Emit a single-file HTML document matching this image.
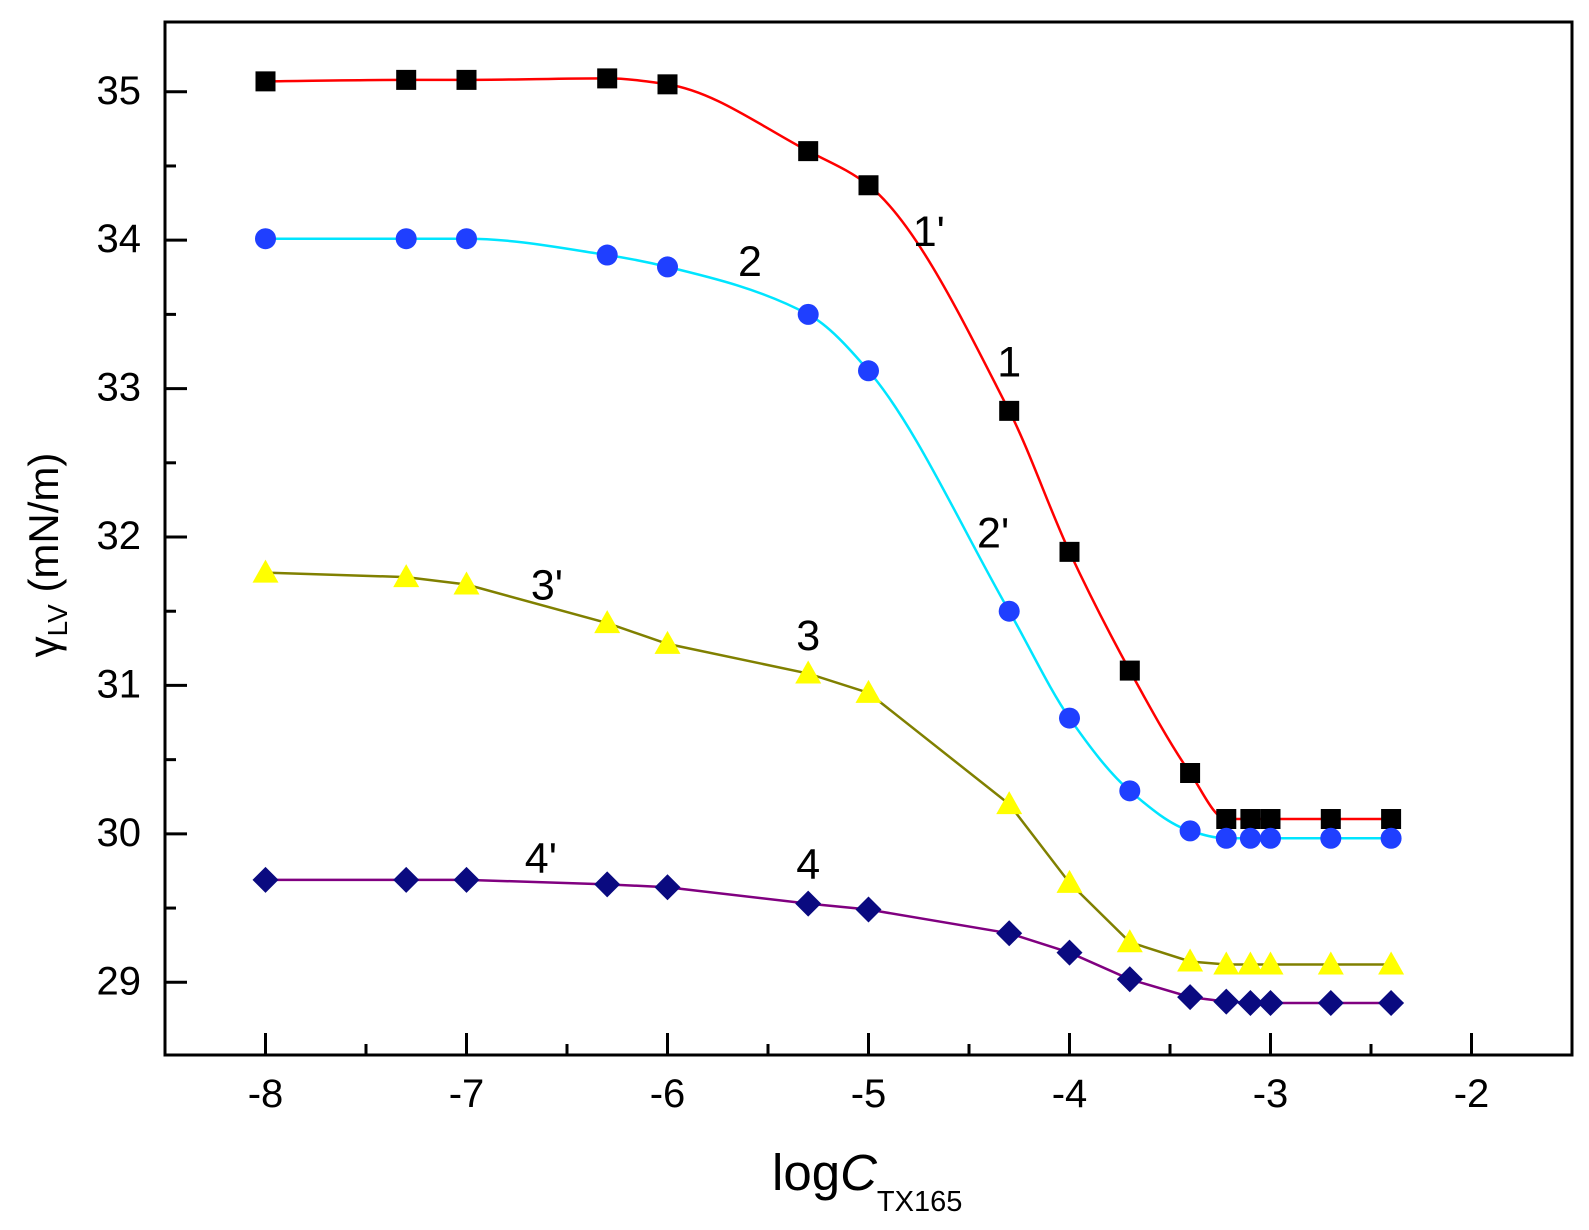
<!DOCTYPE html>
<html><head><meta charset="utf-8"><style>
html,body{margin:0;padding:0;background:#fff;}
svg{display:block;font-family:"Liberation Sans",Arial,sans-serif;}
</style></head><body>
<svg id="chart" width="1589" height="1230" viewBox="0 0 1589 1230" xmlns="http://www.w3.org/2000/svg">
<g id="plot"></g>
<text transform="translate(58,555) rotate(-90)" text-anchor="middle" font-size="42">γ<tspan font-size="28" dy="9">LV</tspan><tspan dy="-9"> (mN/m)</tspan></text>
<text x="772" y="1190" font-size="51">log<tspan font-style="italic">C</tspan><tspan font-size="29" dy="21">TX165</tspan></text>
</svg>
<script>
const xValues = [-8, -7.3, -7, -6.3, -6, -5.3, -5, -4.3, -4, -3.7, -3.4, -3.22, -3.1, -3, -2.7, -2.4];
const series1 = [35.07,35.08,35.08,35.09,35.05,34.6,34.37,32.85,31.9,31.1,30.41,30.1,30.1,30.1,30.1,30.1];
const series2 = [34.01,34.01,34.01,33.9,33.82,33.5,33.12,31.5,30.78,30.29,30.02,29.97,29.97,29.97,29.97,29.97];
const series3 = [31.76,31.73,31.68,31.42,31.28,31.08,30.95,30.2,29.67,29.27,29.14,29.12,29.12,29.12,29.12,29.12];
const series4 = [29.69,29.69,29.69,29.66,29.64,29.53,29.49,29.33,29.2,29.02,28.9,28.87,28.86,28.86,28.86,28.86];
const xTicks = [-8,-7,-6,-5,-4,-3,-2];
const yTicks = [29,30,31,32,33,34,35];
const curveLabels = ["1'","1","2","2'","3'","3","4'","4"];
const labelX = [-4.7,-4.3,-5.59,-4.38,-6.6,-5.3,-6.63,-5.3];
const labelY = [33.96,33.08,33.76,31.93,31.58,31.24,29.74,29.7];

const svg = document.getElementById('plot');
const NS = 'http://www.w3.org/2000/svg';
const L=165, R=1572, T=22, B=1055;
const xMin=-8.5, xMax=-1.5, yMin=28.51, yMax=35.47;
const sx = v => L + (v - xMin) / (xMax - xMin) * (R - L);
const sy = v => B - (v - yMin) / (yMax - yMin) * (B - T);
function mk(tag, attrs){ const e=document.createElementNS(NS,tag); for(const k in attrs) e.setAttribute(k,attrs[k]); svg.appendChild(e); return e; }

xTicks.forEach((t,i)=>{
  const l=mk('line',{x1:sx(t),x2:sx(t),y1:B,y2:B-22,stroke:'#000','stroke-width':3});
  
  
  const tx=mk('text',{x:sx(t),y:1107,'text-anchor':'middle','font-size':40});
  tx.textContent=String(t);
  
  
  if(i<xTicks.length-1){
    const m=mk('line',{x1:sx(t+0.5),x2:sx(t+0.5),y1:B,y2:B-11,stroke:'#000','stroke-width':3});
    
    
  }
});
yTicks.forEach((t,i)=>{
  const l=mk('line',{x1:L,x2:L+22,y1:sy(t),y2:sy(t),stroke:'#000','stroke-width':3});
  
  
  const tx=mk('text',{x:141,y:sy(t)+12,'text-anchor':'end','font-size':40});
  tx.textContent=t;
  
  
  if(i<yTicks.length-1){
    const m=mk('line',{x1:L,x2:L+11,y1:sy(t+0.5),y2:sy(t+0.5),stroke:'#000','stroke-width':3});
    
    
  }
});
const fr=mk('rect',{x:L,y:T,width:R-L,height:B-T,fill:'none',stroke:'#000','stroke-width':3});



// monotone cubic (Fritsch-Carlson) in pixel space
function smoothPath(xs, ys){
  const X=xs.map(sx), Y=ys.map(sy), n=X.length;
  const d=[], m=new Array(n);
  for(let i=0;i<n-1;i++) d.push((Y[i+1]-Y[i])/(X[i+1]-X[i]));
  m[0]=d[0]; m[n-1]=d[n-2];
  for(let i=1;i<n-1;i++){
    if(d[i-1]*d[i]<=0) m[i]=0;
    else { const h0=X[i]-X[i-1], h1=X[i+1]-X[i], w1=2*h1+h0, w2=h1+2*h0; m[i]=(w1+w2)/(w1/d[i-1]+w2/d[i]); }
  }
  let p='M'+X[0]+','+Y[0];
  for(let i=0;i<n-1;i++){
    const h=(X[i+1]-X[i])/3;
    p+=' C'+(X[i]+h)+','+(Y[i]+m[i]*h)+' '+(X[i+1]-h)+','+(Y[i+1]-m[i+1]*h)+' '+X[i+1]+','+Y[i+1];
  }
  return p;
}
function linePath(xs, ys){ return xs.map((x,i)=>(i?'L':'M')+sx(x)+','+sy(ys[i])).join(' '); }

const lines=[[series1,'#ff0000',true,'fit-line-1'],[series2,'#00e5ff',true,'fit-line-2'],[series3,'#808000',false,'fit-line-3'],[series4,'#800080',false,'fit-line-4']];
lines.forEach(([ys,c,sm,n])=>{
  const p=mk('path',{d: sm?smoothPath(xValues,ys):linePath(xValues,ys),fill:'none',stroke:c,'stroke-width':2.5});
  
  
});

xValues.forEach((x,i)=>{
  const X=sx(x);
  let e;
  e=mk('rect',{x:X-10,y:sy(series1[i])-10,width:20,height:20,fill:'#000'});
  
  
  e=mk('circle',{cx:X,cy:sy(series2[i]),r:10.5,fill:'#1f3fff'});
  
  
  const y3=sy(series3[i]);
  e=mk('polygon',{points:`${X},${y3-13} ${X+13},${y3+10} ${X-13},${y3+10}`,fill:'#ffff00'});
  
  
  const y4=sy(series4[i]);
  e=mk('polygon',{points:`${X},${y4-13} ${X+13},${y4} ${X},${y4+13} ${X-13},${y4}`,fill:'#0a0a80'});
  
  
});

curveLabels.forEach((s,i)=>{
  const t=mk('text',{x:sx(labelX[i]),y:sy(labelY[i]),'text-anchor':'middle','font-size':43});
  t.textContent=s;
  
  
});
</script>
</body></html>
